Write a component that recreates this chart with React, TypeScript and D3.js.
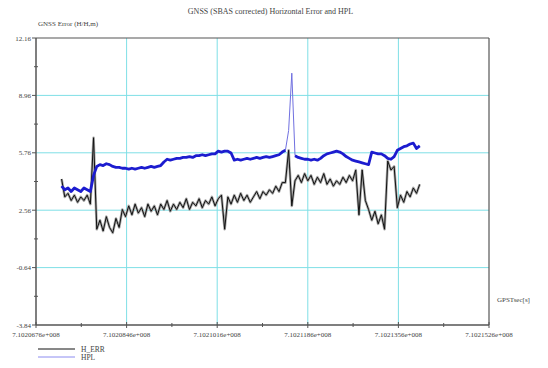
import React from "react";
import * as d3 from "d3";

const T0 = 710206760;
const X_TICKS = [710206760, 710208460, 710210160, 710211860, 710213560, 710215260];
const Y_TICKS = [-3.84, -0.64, 2.56, 5.76, 8.96, 12.16];

const TIME_OFFSETS = [
  480, 540, 600, 660, 720, 780, 840, 900, 960, 1020, 1080, 1140, 1200, 1260, 1320, 1380, 1440, 1500, 1560, 1620,
  1680, 1740, 1800, 1860, 1920, 1980, 2040, 2100, 2160, 2220, 2280, 2340, 2400, 2460, 2520, 2580, 2640, 2700, 2760, 2820,
  2880, 2940, 3000, 3060, 3120, 3180, 3240, 3300, 3360, 3420, 3480, 3540, 3600, 3660, 3720, 3780, 3840, 3900, 3960, 4020,
  4080, 4140, 4200, 4260, 4320, 4380, 4440, 4500, 4560, 4620, 4680, 4740, 4800, 4860, 4920, 4980, 5040, 5100, 5160, 5220,
  5280, 5340, 5400, 5460, 5520, 5580, 5640, 5700, 5760, 5820, 5880, 5940, 6000, 6060, 6120, 6180, 6240, 6300, 6360, 6420,
  6480, 6540, 6600, 6660, 6720, 6780, 6840, 6900, 6960, 7020, 7080, 7140, 7200,
];

const H_ERR = [
  4.3, 3.3, 3.5, 3.1, 3.4, 3.0, 3.3, 3.1, 3.4, 2.9,
  6.6, 1.5, 2.0, 1.4, 2.2, 1.6, 1.3, 2.1, 1.6, 2.6,
  2.2, 2.8, 2.3, 2.9, 2.4, 2.7, 2.2, 2.9, 2.5, 2.8,
  2.3, 2.9, 2.6, 3.1, 2.5, 2.9, 2.6, 3.0, 2.7, 3.2,
  2.6, 3.0, 2.8, 3.2, 2.7, 3.1, 2.9, 3.3, 2.8, 3.2,
  3.4, 1.5, 3.3, 2.9, 3.4, 3.0, 3.5, 3.1, 3.4, 3.0,
  3.3, 3.6, 3.2, 3.6, 3.4, 3.7, 3.5, 3.9, 3.6, 4.1,
  4.1, 5.9, 2.8, 4.2, 4.5, 4.1, 4.6, 4.2, 4.5, 4.0,
  4.4, 4.1, 4.6, 4.0, 4.3, 3.9, 4.2, 4.0, 4.4, 4.1,
  4.5, 4.2, 4.8, 2.3, 4.8, 3.1, 2.6, 2.0, 2.5, 1.8,
  2.3, 1.5, 5.3, 4.8, 5.0, 2.7, 3.4, 3.0, 3.6, 3.3,
  3.8, 3.5, 4.0,
];

const HPL = [
  3.9, 3.7, 3.8, 3.6, 3.8, 3.7, 3.6, 3.8, 3.7, 3.6,
  4.5, 5.0, 5.1, 5.05, 5.15, 5.1, 5.0, 4.95, 4.95, 4.9,
  4.9, 4.85, 4.9, 4.85, 4.9, 4.95, 4.9, 4.95, 5.0, 4.95,
  5.0, 5.05, 5.25, 5.4, 5.35, 5.4, 5.45, 5.45, 5.5, 5.5,
  5.55, 5.5, 5.6, 5.6, 5.65, 5.6, 5.65, 5.7, 5.7, 5.85,
  5.8, 5.85, 5.85, 5.75, 5.35, 5.4, 5.35, 5.4, 5.45, 5.4,
  5.45, 5.5, 5.45, 5.5, 5.55, 5.5, 5.55, 5.6, 5.65, 5.8,
  5.9, 7.0, 10.2, 5.6, 5.5, 5.45, 5.4, 5.4, 5.35, 5.4,
  5.35, 5.45, 5.6, 5.7, 5.75, 5.8, 5.85, 5.8, 5.7, 5.55,
  5.45, 5.35, 5.3, 5.25, 5.2, 5.15, 5.1, 5.8, 5.75, 5.7,
  5.7, 5.6, 5.45, 5.4, 5.55, 5.9, 6.0, 6.1, 6.15, 6.25,
  6.3, 6.0, 6.15,
];

const TITLE = "GNSS (SBAS corrected) Horizontal Error and HPL";
const Y_LABEL = "GNSS Error (H/H,m)";
const X_LABEL = "GPSTsec[s]";
const LEGEND = ["H_ERR", "HPL"];

const W = 548;
const H = 368;
const L = 36, R = 489, T = 38, B = 325;

const fmtX = (v: number) => (v / 1e8).toFixed(7) + "e+008";
const fmtY = (v: number) => v.toFixed(2);

export default function App() {
  const x = d3.scaleLinear().domain([X_TICKS[0], X_TICKS[X_TICKS.length - 1]]).range([L, R]);
  const y = d3.scaleLinear().domain([Y_TICKS[0], Y_TICKS[Y_TICKS.length - 1]]).range([B, T]);

  const pts = TIME_OFFSETS.map((t, i) => ({ t: T0 + t, e: H_ERR[i], h: HPL[i] }));
  const lineE = d3.line<any>().x((d) => x(d.t)).y((d) => y(d.e));
  const lineH = d3.line<any>().x((d) => x(d.t)).y((d) => y(d.h));
  const lineHBody = d3
    .line<any>()
    .defined((d) => d.h < 6.8)
    .x((d) => x(d.t))
    .y((d) => y(d.h));

  const xMinor = X_TICKS.slice(1).map((v, i) => (v + X_TICKS[i]) / 2);
  const yMinor = Y_TICKS.slice(1).map((v, i) => (v + Y_TICKS[i]) / 2);

  const grid = "#7fdfe6";
  const axisCol = "#555";
  const textCol = "#444";
  const font = "'Liberation Serif', 'DejaVu Serif', serif";

  return (
    <div>
      <style>{"body{margin:0;background:#fff}"}</style>
      <svg width={W} height={H} style={{ display: "block", fontFamily: font }}>
        <rect x={0} y={0} width={W} height={H} fill="#fff" />
        <text x={(L + R) / 2 + 8} y={14} fontSize={8} textAnchor="middle" fill={textCol}>{TITLE}</text>
        <text x={L + 2} y={26} fontSize={7} fill={textCol}>{Y_LABEL}</text>
        {X_TICKS.slice(1, -1).map((v) => (
          <line key={"gx" + v} x1={x(v)} x2={x(v)} y1={T} y2={B} stroke={grid} strokeWidth={1} />
        ))}
        {Y_TICKS.slice(1, -1).map((v) => (
          <line key={"gy" + v} x1={L} x2={R} y1={y(v)} y2={y(v)} stroke={grid} strokeWidth={1} />
        ))}
        <path d={lineE(pts) || ""} fill="none" stroke="#a8a8a8" strokeWidth={2.6} strokeLinejoin="round" />
        <path d={lineE(pts) || ""} fill="none" stroke="#111" strokeWidth={1} />
        <path d={lineH(pts) || ""} fill="none" stroke="#7070e0" strokeWidth={1} />
        <path d={lineHBody(pts) || ""} fill="none" stroke="#1c1ccf" strokeWidth={2.8} strokeLinejoin="round" />
        <line x1={L} x2={R} y1={T} y2={T} stroke={axisCol} strokeWidth={1.2} />
        <line x1={R} x2={R} y1={T} y2={B} stroke={axisCol} strokeWidth={1.2} />
        <line x1={L} x2={L} y1={T} y2={B} stroke={axisCol} strokeWidth={1.5} />
        <line x1={L} x2={R} y1={B} y2={B} stroke={axisCol} strokeWidth={1.5} />
        {Y_TICKS.map((v) => (
          <g key={"yt" + v}>
            <line x1={L - 4} x2={L} y1={y(v)} y2={y(v)} stroke={axisCol} />
            <text x={L - 5} y={y(v) + 2.5} fontSize={7} textAnchor="end" fill={textCol}>{fmtY(v)}</text>
          </g>
        ))}
        {yMinor.map((v) => (
          <line key={"ym" + v} x1={L - 2} x2={L + 2} y1={y(v)} y2={y(v)} stroke={axisCol} />
        ))}
        {X_TICKS.map((v) => (
          <g key={"xt" + v}>
            <line x1={x(v)} x2={x(v)} y1={B - 3} y2={B + 3} stroke={axisCol} />
            <text x={x(v)} y={B + 12} fontSize={7} textAnchor="middle" fill={textCol}>{fmtX(v)}</text>
          </g>
        ))}
        {xMinor.map((v) => (
          <line key={"xm" + v} x1={x(v)} x2={x(v)} y1={B - 2} y2={B + 2} stroke={axisCol} />
        ))}
        <text x={497} y={302} fontSize={7} fill={textCol}>{X_LABEL}</text>
        <line x1={38} x2={75} y1={349} y2={349} stroke="#111" strokeWidth={1} />
        <text x={81} y={352} fontSize={7.5} fill={textCol}>{LEGEND[0]}</text>
        <line x1={38} x2={75} y1={357} y2={357} stroke="#8c8cf0" strokeWidth={1} />
        <text x={81} y={360} fontSize={7.5} fill={textCol}>{LEGEND[1]}</text>
      </svg>
    </div>
  );
}
